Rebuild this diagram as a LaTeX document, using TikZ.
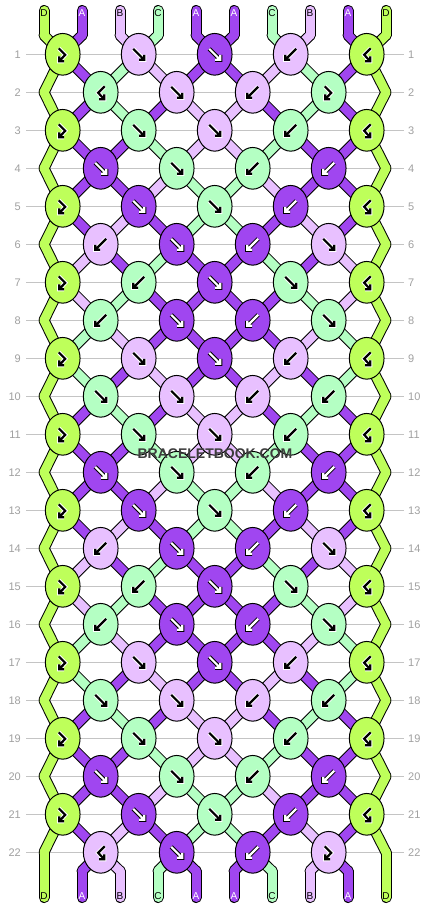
\documentclass[tikz,border=0pt]{standalone}
\usepackage{fontspec}
\setmainfont{Liberation Sans}
\usepackage{tikz}
\usetikzlibrary{shapes.geometric}

\definecolor{colD}{HTML}{BEFF5A}
\definecolor{colA}{HTML}{A046F0}
\definecolor{colB}{HTML}{E8C0FF}
\definecolor{colC}{HTML}{B4FFC3}
\colorlet{inkA}{white}\colorlet{haloA}{black}
\colorlet{inkB}{black}\colorlet{haloB}{white}
\colorlet{inkC}{black}\colorlet{haloC}{white}
\colorlet{inkD}{black}\colorlet{haloD}{white}
\definecolor{rowgray}{HTML}{A0A0A0}
\definecolor{linegray}{HTML}{C4C4C4}
\definecolor{wmgray}{HTML}{3C3C3C}

\newcommand{\arrowf}[1]{
    \foreach \w/\col in {4.2/halo,2.2/ink}
        \draw[line width=\w pt, draw=\col] (#1.center) ++(-5.5,-5.5) -- ++(11,11) ++(-5,0) -- ++(5,0) -- ++(0,-5);
}
\newcommand{\arrowb}[1]{
    \foreach \w/\col in {4.2/halo,2.2/ink}
        \draw[line width=\w pt, draw=\col] (#1.center) ++(5.5,-5.5) -- ++(-11,11) ++(5,0) -- ++(-5,0) -- ++(0,-5);
}
\newcommand{\arrowfb}[1]{
    \foreach \w/\col in {4.2/halo,2.2/ink}
        \draw[line width=\w pt, draw=\col] (#1.center) ++(-4,-6) -- ++(6.5,6.5) -- ++(-6,6.5) ++(5,0) -- ++(-5,0) -- ++(0,-5);
}
\newcommand{\arrowbf}[1]{
    \foreach \w/\col in {4.2/halo,2.2/ink}
        \draw[line width=\w pt, draw=\col] (#1.center) ++(4,-6) -- ++(-6.5,6.5) -- ++(6,6.5) ++(-5,0) -- ++(5,0) -- ++(0,-5);
}

% string order after each row
\def\strandrows{%
0/{D,A,B,C,A,A,C,B,A,D},1/{D,A,C,B,A,A,B,C,A,D},2/{D,A,C,A,B,B,A,C,A,D},%
3/{D,A,A,C,B,B,C,A,A,D},4/{D,A,A,B,C,C,B,A,A,D},5/{D,A,B,A,C,C,A,B,A,D},%
6/{D,B,A,C,A,A,C,A,B,D},7/{D,B,C,A,A,A,A,C,B,D},8/{D,C,B,A,A,A,A,B,C,D},%
9/{D,C,A,B,A,A,B,A,C,D},10/{D,A,C,A,B,B,A,C,A,D},11/{D,A,A,C,B,B,C,A,A,D},%
12/{D,A,A,B,C,C,B,A,A,D},13/{D,A,B,A,C,C,A,B,A,D},14/{D,B,A,C,A,A,C,A,B,D},%
15/{D,B,C,A,A,A,A,C,B,D},16/{D,C,B,A,A,A,A,B,C,D},17/{D,C,A,B,A,A,B,A,C,D},%
18/{D,A,C,A,B,B,A,C,A,D},19/{D,A,A,C,B,B,C,A,A,D},20/{D,A,A,B,C,C,B,A,A,D},%
21/{D,A,B,A,C,C,A,B,A,D},22/{D,A,B,C,A,A,C,B,A,D}}

% knot colour / knot type per row
\def\knotrows{%
1/{D/fb,B/f,A/f,B/b,D/bf},2/{C/bf,B/f,B/b,C/fb},%
3/{D/fb,C/f,B/f,C/b,D/bf},4/{A/f,C/f,C/b,A/b},%
5/{D/fb,A/f,C/f,A/b,D/bf},6/{B/b,A/f,A/b,B/f},%
7/{D/fb,C/b,A/f,C/f,D/bf},8/{C/b,A/f,A/b,C/f},%
9/{D/fb,B/f,A/f,B/b,D/bf},10/{C/f,B/f,B/b,C/b},%
11/{D/fb,C/f,B/f,C/b,D/bf},12/{A/f,C/f,C/b,A/b},%
13/{D/fb,A/f,C/f,A/b,D/bf},14/{B/b,A/f,A/b,B/f},%
15/{D/fb,C/b,A/f,C/f,D/bf},16/{C/b,A/f,A/b,C/f},%
17/{D/fb,B/f,A/f,B/b,D/bf},18/{C/f,B/f,B/b,C/b},%
19/{D/fb,C/f,B/f,C/b,D/bf},20/{A/f,C/f,C/b,A/b},%
21/{D/fb,A/f,C/f,A/b,D/bf},22/{B/bf,A/f,A/b,B/fb}}

\newcommand{\strandpass}[1]{
    \foreach \r/\st in \strandrows {
        \pgfmathtruncatemacro\n{\r+1}
        \foreach \c [count=\p] in \st
            \draw[#1] (s-\r-\p) -- (s-\n-\p);
    }
    \foreach \c [count=\p] in {D,A,B,C,A,A,C,B,A,D} {
        \draw[#1] (top-\p) -- (s-0-\p);
        \draw[#1] (s-23-\p) -- (bot-\p);
    }
}

\begin{document}
\begin{tikzpicture}[x=1pt,y=-1pt,
    knot/.style={ellipse, draw=black, line width=1pt, minimum width=34.7pt, minimum height=41.7pt, inner sep=0pt},
    strand edge/.style={line width=11pt, draw=black, line cap=round},
    strand body/.style={line width=9pt, line cap=round},
    rowlabel/.style={text=rowgray, font=\fontsize{11}{13}\selectfont, inner ysep=0pt},
    rowline/.style={draw=linegray, line width=1pt},
    endlabel/.style={font=\fontsize{10}{12}\selectfont, inner sep=0pt}]
    \useasboundingbox (0,0) rectangle (430,908);
    \fill[white] (0,0) rectangle (430,908);

    \foreach \p in {1,...,10}{
        \pgfmathsetmacro\sx{44+38*(\p-1)}
        \coordinate (top-\p) at (\sx,10.5);
        \coordinate (s-0-\p) at (\sx,35.3);
        \coordinate (s-23-\p) at (\sx,871);
        \coordinate (bot-\p) at (\sx,897.5);
        \foreach \r in {1,...,22}{
            \pgfmathsetmacro\kx{isodd(\r) ? 62.7+76*int((\p-1)/2) : (\p==1 ? 44 : (\p==10 ? 386 : 100.7+76*int((\p-2)/2)))}
            \coordinate (s-\r-\p) at (\kx,{54.3+38*(\r-1)});
        }
    }

    \foreach \r in {1,...,22}{
        \node[rowlabel, anchor=east, inner xsep=5pt] (ll-\r) at (26,{54.3+38*(\r-1)}) {\r};
        \node[rowlabel, anchor=west, inner xsep=4pt] (rl-\r) at (404,{54.3+38*(\r-1)}) {\r};
        \draw[rowline] (ll-\r) -- (rl-\r);
    }

    \strandpass{strand edge}
    \strandpass{strand body, draw=col\c}

    \foreach \c [count=\p] in {D,A,B,C,A,A,C,B,A,D}{
        \pgfmathsetmacro\sx{44+38*(\p-1)}
        \node[endlabel, text=ink\c] (tl-\p) at (\sx,12.7) {\c};
        \node[endlabel, text=ink\c] (bl-\p) at (\sx,896.5) {\c};
    }

    \foreach \r/\row in \knotrows {
        \foreach \c/\t [count=\i] in \row {
            \pgfmathtruncatemacro\p{isodd(\r) ? 2*\i-1 : 2*\i}
            \node[knot, fill=col\c] (k-\r-\i) at (s-\r-\p) {};
            \colorlet{ink}{ink\c}\colorlet{halo}{halo\c}
            \csname arrow\t\endcsname{k-\r-\i}
        }
    }

    \node[font=\bfseries\fontsize{14}{16}\selectfont, text=wmgray] (wm) at (215,453.3) {BRACELETBOOK.COM};
\end{tikzpicture}
\end{document}
